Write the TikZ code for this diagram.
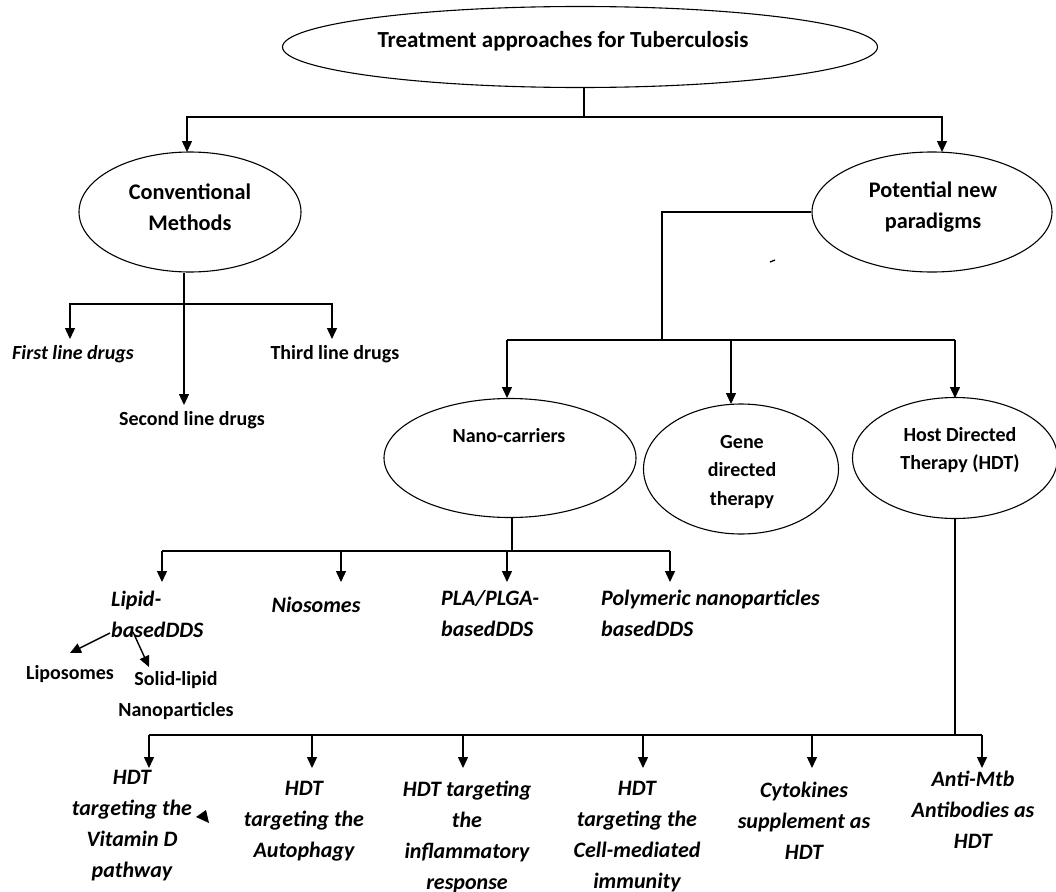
\documentclass[tikz,border=0pt]{standalone}
\usepackage{fontspec}
\setmainfont{Carlito}
\usetikzlibrary{arrows.meta,positioning,shapes.geometric}

\begin{document}
\begin{tikzpicture}[x=1pt,y=-1pt,
  oval/.style={ellipse,draw,line width=1.1pt,inner sep=0pt},
  lbl/.style={align=center,inner sep=0pt,font=\bfseries\fontsize{20}{31}\selectfont},
  big/.style={lbl,font=\bfseries\fontsize{22.3}{31.5}\selectfont},
  ilbl/.style={lbl,font=\bfseries\itshape\fontsize{22}{31}\selectfont},
  wire/.style={line width=1.4pt},
  arr/.style={wire,-{Triangle[length=11pt,width=10pt]}}
]
\fill[white] (0,0) rectangle (1056,891);
\useasboundingbox (0,0) rectangle (1056,891);

% ovals
\node[oval,minimum width=595,minimum height=81] (top) at (580,47) {};
\node[lbl,font=\bfseries\fontsize{23}{31}\selectfont] (toptxt) at (563,41) {Treatment approaches for Tuberculosis};
\node[oval,minimum width=222,minimum height=120] (conv) at (190,212) {};
\node[big] (convtxt) at (190,207) {Conventional\\Methods};
\node[oval,minimum width=240,minimum height=120] (pot) at (932,212) {};
\node[big] (pottxt) at (933,207) {Potential new\\paradigms};
\node[oval,minimum width=252,minimum height=119] (nano) at (510,458) {};
\node[lbl] (nanotxt) at (509,436) {Nano-carriers};
\node[oval,minimum width=195,minimum height=130] (gene) at (741,469) {};
\node[lbl,font=\bfseries\fontsize{20}{28.5}\selectfont] (genetxt) at (742,472) {Gene\\directed\\therapy};
\node[oval,minimum width=205,minimum height=121] (hdt) at (955,458) {};
\node[lbl,font=\bfseries\fontsize{20}{28.5}\selectfont] (hdttxt) at (960,450) {Host Directed\\Therapy (HDT)};

% drug lines
\node[lbl,font=\bfseries\itshape\fontsize{20}{31}\selectfont] (first) at (73,354) {First line drugs};
\node[lbl] (third) at (335,354) {Third line drugs};
\node[lbl] (second) at (192,420) {Second line drugs};

% nano-carriers
\node[ilbl,align=left,anchor=west] (lipid) at (111,614) {Lipid-\\basedDDS};
\node[ilbl] (nio) at (316,605) {Niosomes};
\node[ilbl,align=left,anchor=west] (pla) at (441,614) {PLA/PLGA-\\basedDDS};
\node[ilbl,align=left,anchor=west] (poly) at (601,613) {Polymeric nanoparticles\\basedDDS};
\node[lbl] (lipo) at (70,674) {Liposomes};
\node[lbl] (sln) at (176,696) {Solid-lipid\\Nanoparticles};

% host directed therapy
\node[ilbl] (vitd) at (132,826) {HDT\\targeting the\\Vitamin D\\pathway};
\node[ilbl] (auto) at (304,821) {HDT\\targeting the\\Autophagy};
\node[ilbl] (infl) at (467,837) {HDT targeting\\the\\inflammatory\\response};
\node[ilbl] (cell) at (637,837) {HDT\\targeting the\\Cell-mediated\\immunity};
\node[ilbl] (cyto) at (804,821) {Cytokines\\supplement as\\HDT};
\node[ilbl] (anti) at (973,810) {Anti-Mtb\\Antibodies as\\HDT};

% junctions and arrow ends
\coordinate (tj) at (584,117);
\coordinate (cA) at (187,152);
\coordinate (pA) at (942,152);
\coordinate (cj) at (184,304);
\coordinate (fA) at (70,339);
\coordinate (tA) at (332,339);
\coordinate (sA) at (184,405);
\coordinate (pj) at (662,340);
\coordinate (nA) at (507,398);
\coordinate (gA) at (731,404);
\coordinate (hA) at (955,398);
\coordinate (nj) at (512,551);
\coordinate (l1) at (162,582);
\coordinate (l2) at (341,582);
\coordinate (l3) at (507,582);
\coordinate (l4) at (670,582);
\coordinate (ls) at (110,633);
\coordinate (lsA) at (70,653);
\coordinate (ss) at (133,632);
\coordinate (ssA) at (149,667);
\coordinate (hj) at (955,735);
\coordinate (b1) at (149,768);
\coordinate (b2) at (312,768);
\coordinate (b3) at (463,768);
\coordinate (b4) at (643,768);
\coordinate (b5) at (812,768);
\coordinate (b6) at (982,768);

% top level
\draw[wire] (top.south -| tj) -- (tj);
\draw[arr] (tj) -| (cA);
\draw[arr] (tj) -| (pA);

% conventional
\draw[arr] (conv.south -| cj) -- (sA);
\draw[arr] (cj) -| (fA);
\draw[arr] (cj) -| (tA);

% new paradigms
\draw[wire] (pot.west) -| (pj);
\draw[wire] (nA |- pj) -- (hA |- pj);
\foreach \a in {nA,gA,hA}
  \draw[arr] (\a |- pj) -- (\a);

% nano-carriers
\draw[wire] (nano.south -| nj) -- (nj);
\draw[wire] (l1 |- nj) -- (l4 |- nj);
\foreach \a in {l1,l2,l3,l4}
  \draw[arr] (\a |- nj) -- (\a);
\draw[arr] (ls) -- (lsA);
\draw[arr] (ss) -- (ssA);

% host directed therapy
\draw[wire] (hdt.south -| hj) -- (hj);
\draw[wire] (b1 |- hj) -- (b6 |- hj);
\foreach \a in {b1,b2,b3,b4,b5,b6}
  \draw[arr] (\a |- hj) -- (\a);

% stray marks
\fill (196,817) -- (206,810) -- (209,823) -- cycle;
\draw[line width=1.3pt] (770,262) -- (775,260);
\end{tikzpicture}
\end{document}
